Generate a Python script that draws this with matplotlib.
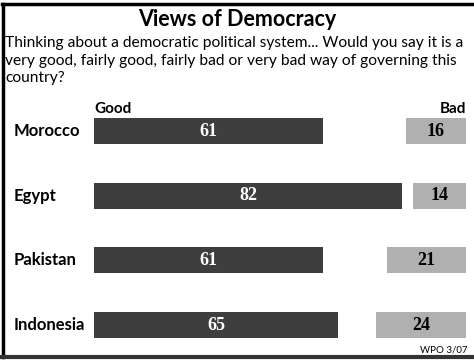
import matplotlib
matplotlib.use("Agg")
import matplotlib.pyplot as plt
from matplotlib.lines import Line2D

countries = ["Morocco", "Egypt", "Pakistan", "Indonesia"]
good = [61, 82, 61, 65]
bad = [16, 14, 21, 24]

title = "Views of Democracy"
question = ("Thinking about a democratic political system... Would you say it is a\n"
            "very good, fairly good, fairly bad or very bad way of governing this\n"
            "country?")
source = "WPO 3/07"

W, H = 474, 362
fig = plt.figure(figsize=(W / 100, H / 100), dpi=100)
fig.patch.set_facecolor("white")

SANS = ["Lato", "DejaVu Sans"]
SERIF = ["Liberation Serif", "DejaVu Serif"]


def fx(px):
    return px / W


def fy(py):
    return 1 - py / H


# bar area: good bars grow right from 0, bad bars grow left from the right edge
right_edge = 99
row_px = 64.7
top_px = 131 - row_px / 2
ax = fig.add_axes([fx(94), fy(top_px + 4 * row_px), fx(466) - fx(94), 4 * row_px / H])
ax.set_xlim(0, right_edge)
ax.set_ylim(3.5, -0.5)
ax.axis("off")

ypos = list(range(len(countries)))
bar_h = 0.40
ax.barh(ypos, good, left=0, height=bar_h, color="#3e3e3e", linewidth=0)
ax.barh(ypos, bad, left=[right_edge - b for b in bad], height=bar_h,
        color="#b0b0b0", linewidth=0)

for y, g, b in zip(ypos, good, bad):
    ax.text(g / 2, y, str(g), ha="center", va="center", color="white",
            fontsize=13, fontweight="bold", family=SERIF)
    ax.text(right_edge - b / 2, y, str(b), ha="center", va="center", color="black",
            fontsize=13, fontweight="bold", family=SERIF)

# country labels
for y, c in zip(ypos, countries):
    py = 131 + y * row_px
    fig.text(fx(14), fy(py), c, ha="left", va="center", fontsize=12,
             fontweight="bold", family=SANS)

# column headers
fig.text(fx(94), fy(109), "Good", ha="left", va="center", fontsize=11,
         fontweight="bold", family=SANS)
fig.text(fx(466), fy(109), "Bad", ha="right", va="center", fontsize=11,
         fontweight="bold", family=SANS)

# title and question
fig.text(fx(237), fy(20), title, ha="center", va="center", fontsize=15.5,
         fontweight="bold", family=SANS)
fig.text(fx(5), fy(36), question, ha="left", va="top", fontsize=11.2,
         family=SANS, linespacing=1.32)

fig.text(fx(468), fy(350), source, ha="right", va="center", fontsize=7,
         family=SANS)

# frame
fig.add_artist(Line2D([fx(3), fx(3)], [fy(4), fy(357)], color="black", lw=2.5))
fig.add_artist(Line2D([fx(2), 1], [fy(4), fy(4)], color="black", lw=2.5))
fig.add_artist(Line2D([fx(2), 1], [fy(357), fy(357)], color="#333333", lw=3))

fig.savefig("out.png", dpi=100, facecolor="white")
